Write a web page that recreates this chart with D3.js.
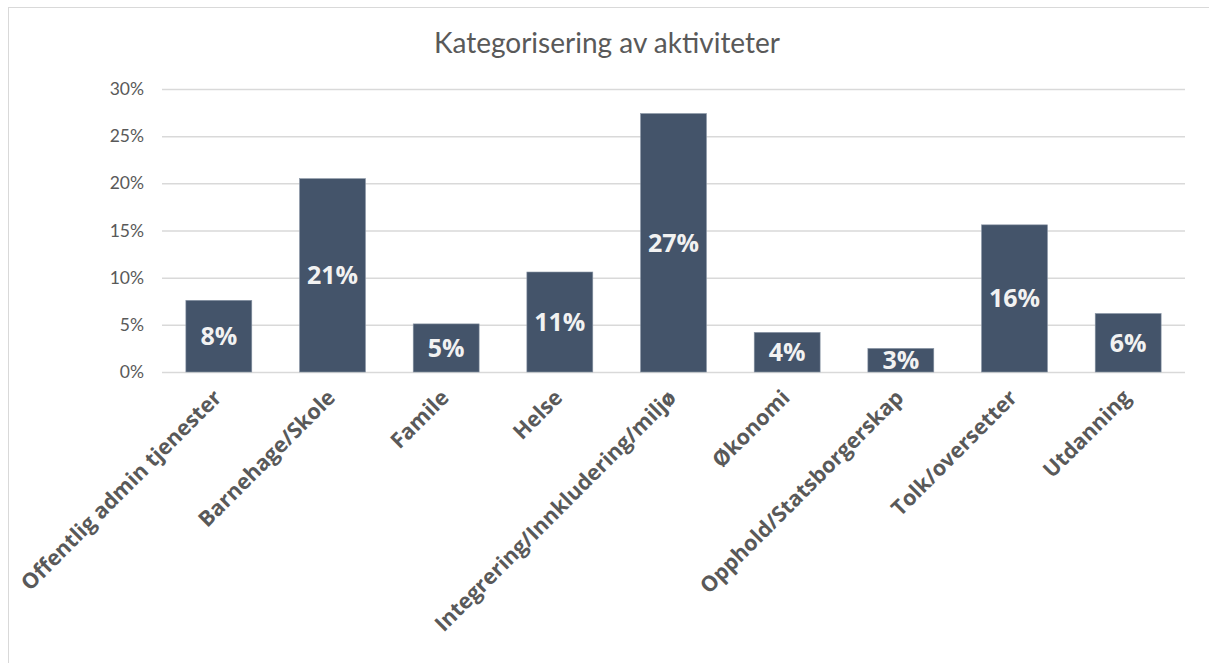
<!DOCTYPE html>
<html>
<head>
<meta charset="utf-8">
<script src="https://d3js.org/d3.v7.min.js"></script>
<style>
    body { margin: 0; background: #fff; }
</style>
</head>
<body>
    <div id="chart"></div>
    <script>
        const categories = ["Offentlig admin tjenester", "Barnehage/Skole", "Famile", "Helse",
            "Integrering/Innkludering/miljø", "Økonomi", "Opphold/Statsborgerskap", "Tolk/oversetter", "Utdanning"];
        const values = [7.6, 20.5, 5.1, 10.6, 27.4, 4.2, 2.5, 15.6, 6.2];
        const yTicks = [0, 5, 10, 15, 20, 25, 30];
        const title = "Kategorisering av aktiviteter";

        const width = 1209, height = 663;
        const margin = { top: 89, right: 24, bottom: 291, left: 162 };

        const svg = d3.select("#chart").append("svg")
            .attr("width", width)
            .attr("height", height);

        // chart frame
        svg.append("rect")
            .attr("x", 8.5).attr("y", 7.5)
            .attr("width", 1220).attr("height", 700)
            .attr("fill", "none")
            .attr("stroke", "#d9d9d9");

        const x = d3.scaleBand()
            .domain(categories)
            .range([margin.left, width - margin.right])
            .paddingInner(0.42)
            .paddingOuter(0.21);

        const y = d3.scaleLinear()
            .domain([0, 30])
            .range([height - margin.bottom, margin.top]);

        svg.append("text")
            .attr("x", 607).attr("y", 53)
            .attr("text-anchor", "middle")
            .attr("font-family", "Lato, sans-serif")
            .attr("font-size", 28)
            .attr("fill", "#595959")
            .text(title);

        // gridlines + y labels
        const yAxis = d3.axisLeft(y)
            .tickValues(yTicks)
            .tickSize(-(width - margin.left - margin.right))
            .tickPadding(18)
            .tickFormat(d => d + "%");

        svg.append("g")
            .attr("transform", `translate(${margin.left},0)`)
            .call(yAxis)
            .call(g => g.select(".domain").remove())
            .call(g => g.selectAll(".tick line").attr("stroke", "#d9d9d9").attr("stroke-width", 1.5))
            .call(g => g.selectAll(".tick text")
                .attr("font-family", "Lato, sans-serif")
                .attr("font-size", 17.5)
                .attr("fill", "#595959"));

        svg.append("g")
            .selectAll("rect")
            .data(values)
            .join("rect")
            .attr("x", (d, i) => x(categories[i]))
            .attr("y", d => y(d))
            .attr("width", x.bandwidth())
            .attr("height", d => y(0) - y(d))
            .attr("fill", "#44546a")
            .attr("stroke", "#8a96a6")
            .attr("stroke-width", 0.6);

        svg.append("g")
            .selectAll("text")
            .data(values)
            .join("text")
            .attr("x", (d, i) => x(categories[i]) + x.bandwidth() / 2)
            .attr("y", d => (y(d) + y(0)) / 2)
            .attr("dy", "0.36em")
            .attr("text-anchor", "middle")
            .attr("font-family", "'Open Sans', sans-serif")
            .attr("font-weight", "bold")
            .attr("font-size", 25)
            .attr("fill", "#f2f2f2")
            .text(d => Math.round(d) + "%");

        // rotated category labels
        svg.append("g")
            .selectAll("text")
            .data(categories)
            .join("text")
            .attr("transform", d => `translate(${x(d) + x.bandwidth() / 2 + 4},399) rotate(-45)`)
            .attr("text-anchor", "end")
            .attr("font-family", "'Open Sans', sans-serif")
            .attr("font-weight", "bold")
            .attr("font-size", 21.5)
            .attr("fill", "#595959")
            .text(d => d);
    </script>
</body>
</html>
